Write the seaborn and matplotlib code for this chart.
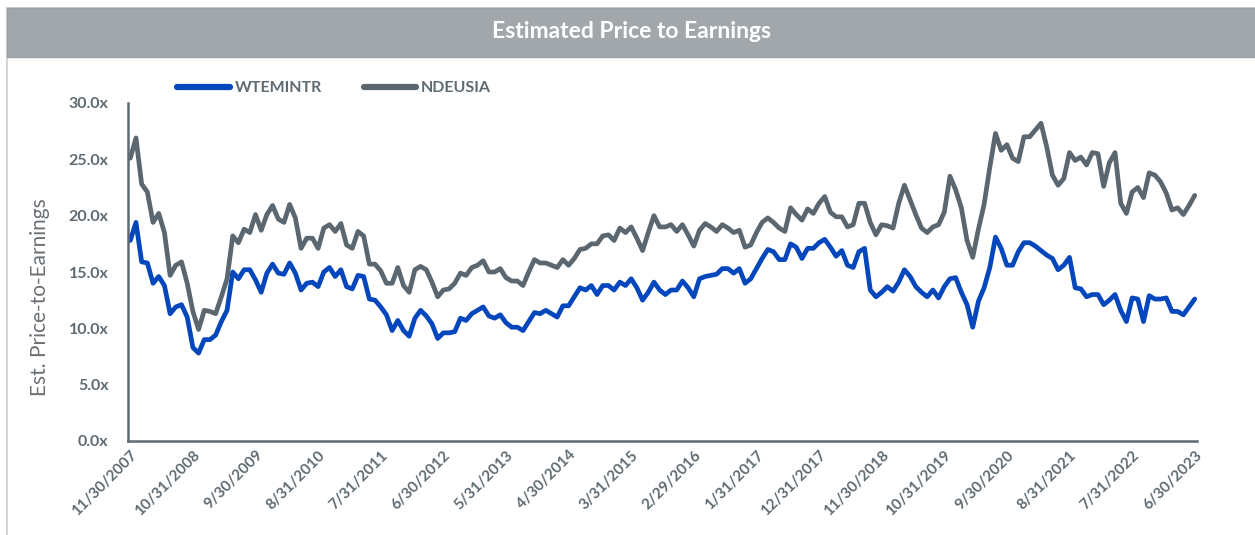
import matplotlib

matplotlib.use("Agg")
import matplotlib.pyplot as plt
import numpy as np
import pandas as pd
import seaborn as sns
from matplotlib.patches import Rectangle
from matplotlib.ticker import FuncFormatter

# month-end dates, 11/30/2007 .. 6/30/2023
dates = pd.date_range("2007-11-01", periods=188, freq="MS") + pd.offsets.MonthEnd(0)

wtemintr = [
    17.8, 19.4, 15.9, 15.8, 14.0, 14.6, 13.8, 11.3, 11.9, 12.1, 11.0, 8.3,
    7.8, 9.0, 9.0, 9.4, 10.6, 11.6, 15.0, 14.4, 15.2, 15.2, 14.3, 13.2,
    14.9, 15.7, 14.9, 14.8, 15.8, 14.9, 13.4, 14.0, 14.1, 13.7, 15.0, 15.4,
    14.6, 15.2, 13.7, 13.5, 14.7, 14.6, 12.6, 12.5, 11.9, 11.2, 9.8, 10.7,
    9.8, 9.3, 10.9, 11.6, 11.1, 10.4, 9.1, 9.6, 9.6, 9.7, 10.9, 10.7,
    11.3, 11.6, 11.9, 11.1, 10.9, 11.2, 10.5, 10.1, 10.1, 9.8, 10.6, 11.4,
    11.3, 11.6, 11.3, 11.0, 12.0, 12.0, 12.8, 13.6, 13.4, 13.8, 13.0, 13.8,
    13.8, 13.4, 14.1, 13.8, 14.4, 13.6, 12.5, 13.2, 14.1, 13.4, 13.0, 13.4,
    13.4, 14.2, 13.6, 12.8, 14.4, 14.6, 14.7, 14.8, 15.3, 15.3, 14.9, 15.3,
    14.0, 14.4, 15.3, 16.2, 17.0, 16.8, 16.1, 16.1, 17.5, 17.2, 16.2, 17.1,
    17.1, 17.6, 17.9, 17.2, 16.4, 16.9, 15.6, 15.4, 16.8, 17.1, 13.4, 12.8,
    13.2, 13.7, 13.3, 14.1, 15.2, 14.6, 13.7, 13.2, 12.8, 13.4, 12.7, 13.7,
    14.4, 14.5, 13.2, 12.1, 10.1, 12.4, 13.6, 15.4, 18.1, 17.1, 15.6, 15.6,
    16.8, 17.6, 17.6, 17.3, 16.9, 16.5, 16.2, 15.2, 15.6, 16.3, 13.6, 13.5,
    12.8, 13.0, 13.0, 12.1, 12.5, 13.0, 11.6, 10.6, 12.7, 12.6, 10.6, 12.9,
    12.6, 12.6, 12.7, 11.5, 11.5, 11.2, 11.9, 12.6,
]

ndeusia = [
    25.1, 26.9, 22.8, 22.1, 19.4, 20.2, 18.5, 14.7, 15.6, 15.9, 14.0, 11.5,
    9.9, 11.6, 11.5, 11.3, 12.8, 14.4, 18.2, 17.6, 18.8, 18.5, 20.1, 18.7,
    20.1, 20.9, 19.7, 19.4, 21.0, 19.8, 17.1, 18.0, 18.0, 17.1, 18.9, 19.2,
    18.6, 19.3, 17.4, 17.1, 18.6, 18.2, 15.7, 15.7, 15.1, 14.0, 14.0, 15.4,
    13.8, 13.2, 15.2, 15.5, 15.2, 14.1, 12.8, 13.4, 13.5, 14.0, 14.9, 14.7,
    15.4, 15.6, 16.0, 15.0, 15.0, 15.3, 14.5, 14.2, 14.2, 13.8, 15.0, 16.1,
    15.8, 15.8, 15.6, 15.4, 16.1, 15.6, 16.2, 17.0, 17.1, 17.5, 17.5, 18.2,
    18.3, 17.8, 18.9, 18.5, 19.0, 18.0, 16.9, 18.5, 20.0, 19.0, 19.0, 19.2,
    18.6, 19.2, 18.3, 17.3, 18.7, 19.3, 19.0, 18.6, 19.2, 18.9, 18.5, 18.7,
    17.2, 17.4, 18.5, 19.4, 19.8, 19.4, 18.9, 18.6, 20.7, 20.1, 19.6, 20.6,
    20.2, 21.1, 21.7, 20.3, 19.9, 19.9, 19.0, 19.2, 21.1, 21.1, 19.4, 18.3,
    19.2, 19.1, 18.9, 21.1, 22.7, 21.4, 20.1, 18.9, 18.5, 19.0, 19.2, 20.3,
    23.5, 22.3, 20.7, 17.8, 16.3, 18.8, 21.0, 24.3, 27.3, 25.8, 26.3, 25.1,
    24.8, 27.0, 27.0, 27.6, 28.2, 26.1, 23.6, 22.7, 23.3, 25.6, 24.9, 25.2,
    24.5, 25.6, 25.5, 22.6, 24.7, 25.6, 21.1, 20.2, 22.1, 22.5, 21.6, 23.8,
    23.6, 23.0, 22.0, 20.5, 20.7, 20.1, 20.9, 21.8,
]

series_names = ["WTEMINTR", "NDEUSIA"]
series_colors = ["#0447BC", "#5B6770"]
yticks = [0, 5, 10, 15, 20, 25, 30]

TEXT = "#5F6B73"

df = pd.DataFrame({
    "idx": np.tile(np.arange(len(dates)), 2),
    "value": wtemintr + ndeusia,
    "series": np.repeat(series_names, len(dates)),
})

sns.set_theme(style="white")
plt.rcParams["font.family"] = ["Lato", "DejaVu Sans"]

W, H = 1255, 535
fig = plt.figure(figsize=(W / 100, H / 100), dpi=100)
fig.patch.set_facecolor("white")

# panel frame + header band
fig.patches.append(Rectangle((7 / W, -0.02), 1.0, 1 - 8 / H + 0.02, transform=fig.transFigure,
                             facecolor="none", edgecolor="#D3D6D9", linewidth=1.5))
fig.patches.append(Rectangle((7 / W, 1 - 57 / H), 1.0, 49 / H, transform=fig.transFigure,
                             facecolor="#A2A7AC", edgecolor="#9A9FA4", linewidth=1.0))
fig.text(632 / W, 1 - 32 / H, "Estimated Price to Earnings", ha="center", va="center",
         color="white", fontsize=16.5, fontweight="bold")

ax = fig.add_axes([128 / W, 1 - 441 / H, (1197 - 128) / W, (441 - 103) / H])
sns.lineplot(data=df, x="idx", y="value", hue="series", hue_order=series_names,
             palette=series_colors, linewidth=3.4, ax=ax, legend=True)

ax.set_xlim(-0.4, len(dates) - 0.6)
ax.set_ylim(0, 30)
ax.set_yticks(yticks)
ax.yaxis.set_major_formatter(FuncFormatter(lambda v, _: f"{v:.1f}x"))
tick_pos = np.arange(0, len(dates), 11)
ax.set_xticks(tick_pos)
ax.set_xticklabels([f"{dates[i].month}/{dates[i].day}/{dates[i].year}" for i in tick_pos],
                   rotation=45, ha="right", rotation_mode="anchor")
ax.tick_params(axis="both", length=0, colors=TEXT)
ax.tick_params(axis="y", pad=14, labelsize=11.5)
ax.tick_params(axis="x", pad=5, labelsize=11)
for lab in ax.get_yticklabels() + ax.get_xticklabels():
    lab.set_fontweight("bold")
ax.set_xlabel("")
ax.set_ylabel("Est. Price-to-Earnings", fontsize=15, color="#6B7075")
ax.yaxis.set_label_coords(-0.073, 0.425)

sns.despine(ax=ax)
for side in ("left", "bottom"):
    ax.spines[side].set_color(TEXT)
    ax.spines[side].set_linewidth(1.8)
ax.grid(False)

ax.legend(loc="center left", bbox_to_anchor=(163 / W, 1 - 88 / H), bbox_transform=fig.transFigure,
          ncol=2, frameon=False, handlelength=3.3, handletextpad=0.3, columnspacing=2.6,
          prop={"size": 11.5, "weight": "bold"}, labelcolor=TEXT)
for line in ax.get_legend().get_lines():
    line.set_linewidth(4.5)

fig.savefig("out.png", dpi=100, facecolor="white")
plt.close(fig)
